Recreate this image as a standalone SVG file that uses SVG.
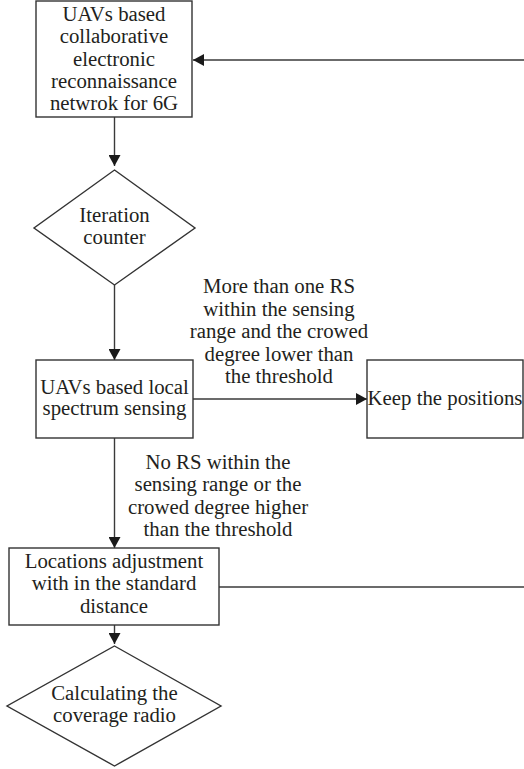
<svg xmlns="http://www.w3.org/2000/svg" width="524" height="769" viewBox="0 0 524 769">
<style>
.shape{fill:#fff;stroke:#333;stroke-width:1.4}
.line{fill:none;stroke:#3a3a3a;stroke-width:1.4}
.lb{font-size:20.8px;fill:#231f20;text-anchor:middle}
</style>
<defs>
<marker id="arr" markerUnits="userSpaceOnUse" markerWidth="12" markerHeight="12" viewBox="0 0 11 12" refX="11" refY="6" orient="auto">
<path d="M0,0 L11,6 L0,12 Z" fill="#1a1a1a"/>
</marker>
</defs>
<rect width="524" height="769" fill="#fff"/>
<g id="connectors">
<line class="line" x1="524" y1="60" x2="193" y2="60" marker-end="url(#arr)"/>
<line class="line" x1="114.5" y1="117" x2="114.5" y2="166" marker-end="url(#arr)"/>
<line class="line" x1="114.5" y1="285" x2="114.5" y2="360" marker-end="url(#arr)"/>
<line class="line" x1="193" y1="399" x2="367" y2="399" marker-end="url(#arr)"/>
<line class="line" x1="114.5" y1="438" x2="114.5" y2="548" marker-end="url(#arr)"/>
<line class="line" x1="219" y1="587" x2="524" y2="587"/>
<line class="line" x1="114.5" y1="625" x2="114.5" y2="644" marker-end="url(#arr)"/>
<g id="label-keep">
<text class="lb" font-family="Liberation Serif" x="279" y="293">More than one RS</text>
<text class="lb" font-family="Liberation Serif" x="279" y="315.5">within the sensing</text>
<text class="lb" font-family="Liberation Serif" x="279" y="338">range and the crowed</text>
<text class="lb" font-family="Liberation Serif" x="279" y="360.5">degree lower than</text>
<text class="lb" font-family="Liberation Serif" x="279" y="383">the threshold</text>
</g>
<g id="label-adjust">
<text class="lb" font-family="Liberation Serif" x="218" y="469">No RS within the</text>
<text class="lb" font-family="Liberation Serif" x="218" y="491.3">sensing range or the</text>
<text class="lb" font-family="Liberation Serif" x="218" y="513.6">crowed degree higher</text>
<text class="lb" font-family="Liberation Serif" x="218" y="536">than the threshold</text>
</g>
</g>
<g id="network">
<rect class="shape" x="36" y="1" width="156" height="116"/>
<text class="lb" font-family="Liberation Serif" x="114" y="21">UAVs based</text>
<text class="lb" font-family="Liberation Serif" x="114" y="43.3">collaborative</text>
<text class="lb" font-family="Liberation Serif" x="114" y="65.5">electronic</text>
<text class="lb" font-family="Liberation Serif" x="114" y="87.8">reconnaissance</text>
<text class="lb" font-family="Liberation Serif" x="114" y="110">netwrok for 6G</text>
</g>
<g id="iteration">
<polygon class="shape" points="114.5,170 195,228 114.5,285 34,228"/>
<text class="lb" font-family="Liberation Serif" x="114.5" y="222">Iteration</text>
<text class="lb" font-family="Liberation Serif" x="114.5" y="244">counter</text>
</g>
<g id="sensing">
<rect class="shape" x="36" y="360" width="157" height="78"/>
<text class="lb" font-family="Liberation Serif" x="114.5" y="394">UAVs based local</text>
<text class="lb" font-family="Liberation Serif" x="114.5" y="415">spectrum sensing</text>
</g>
<g id="keep">
<rect class="shape" x="367" y="360" width="156" height="78"/>
<text class="lb" font-family="Liberation Serif" x="445" y="405">Keep the positions</text>
</g>
<g id="adjust">
<rect class="shape" x="9" y="548" width="210" height="77"/>
<text class="lb" font-family="Liberation Serif" x="114" y="568">Locations adjustment</text>
<text class="lb" font-family="Liberation Serif" x="114" y="590">with in the standard</text>
<text class="lb" font-family="Liberation Serif" x="114" y="613">distance</text>
</g>
<g id="coverage">
<polygon class="shape" points="114.5,646 221,706 114.5,766 7,706"/>
<text class="lb" font-family="Liberation Serif" x="114.5" y="700">Calculating the</text>
<text class="lb" font-family="Liberation Serif" x="114.5" y="722">coverage radio</text>
</g>
</svg>
